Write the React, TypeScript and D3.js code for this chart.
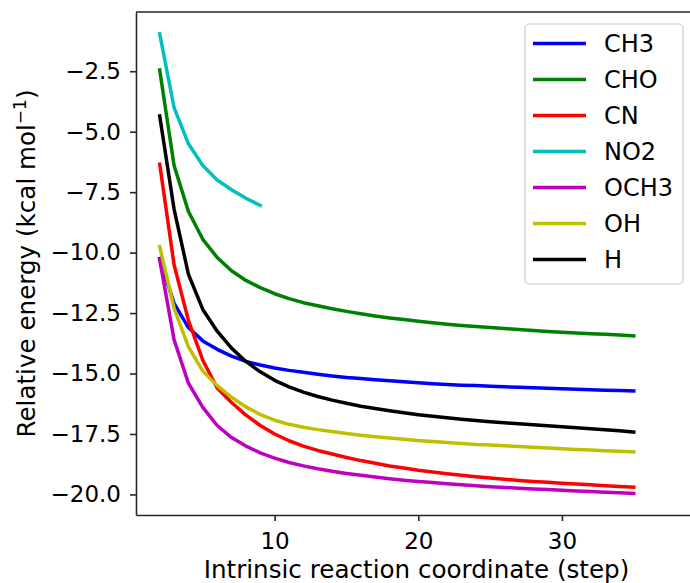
import React, { useEffect, useRef } from 'react';
import * as d3 from 'd3';

// IRC step numbers
const steps = [2, 3, 4, 5, 6, 7, 8, 9, 10, 11, 12, 13, 14, 15, 16, 17, 18, 19, 20, 21, 22, 23, 24, 25, 26, 27, 28, 29, 30, 31, 32, 33, 34, 35];

// relative energies (kcal/mol)
const ch3 = [-10.25, -12.1, -13.1, -13.65, -14.0, -14.28, -14.5, -14.65, -14.77, -14.87, -14.95, -15.03, -15.1, -15.16, -15.21, -15.26, -15.3, -15.34, -15.38, -15.42, -15.45, -15.48, -15.5, -15.53, -15.55, -15.57, -15.59, -15.61, -15.63, -15.65, -15.67, -15.69, -15.7, -15.72];
const cho = [-2.45, -6.4, -8.3, -9.45, -10.2, -10.75, -11.15, -11.45, -11.7, -11.9, -12.07, -12.2, -12.32, -12.43, -12.53, -12.62, -12.7, -12.77, -12.84, -12.9, -12.96, -13.01, -13.06, -13.1, -13.14, -13.18, -13.22, -13.26, -13.29, -13.32, -13.35, -13.38, -13.41, -13.44];
const cn = [-6.35, -10.5, -12.8, -14.45, -15.6, -16.2, -16.72, -17.15, -17.5, -17.78, -18.0, -18.18, -18.33, -18.47, -18.6, -18.71, -18.82, -18.91, -19.0, -19.07, -19.14, -19.21, -19.27, -19.32, -19.37, -19.42, -19.46, -19.5, -19.54, -19.57, -19.6, -19.64, -19.67, -19.7];
const no2 = [-0.95, -4.0, -5.5, -6.4, -7.0, -7.4, -7.75, -8.05];
const och3 = [-10.3, -13.6, -15.4, -16.4, -17.15, -17.65, -18.0, -18.28, -18.5, -18.68, -18.82, -18.94, -19.04, -19.13, -19.21, -19.28, -19.35, -19.41, -19.46, -19.51, -19.56, -19.6, -19.64, -19.68, -19.71, -19.74, -19.77, -19.8, -19.83, -19.86, -19.88, -19.91, -19.93, -19.96];
const oh = [-9.75, -12.3, -13.9, -14.9, -15.5, -15.98, -16.38, -16.7, -16.93, -17.1, -17.22, -17.32, -17.4, -17.48, -17.55, -17.61, -17.67, -17.72, -17.77, -17.81, -17.85, -17.89, -17.93, -17.96, -17.99, -18.02, -18.05, -18.08, -18.11, -18.14, -18.16, -18.19, -18.21, -18.24];
const h = [-4.35, -8.2, -10.9, -12.35, -13.25, -13.95, -14.5, -14.93, -15.28, -15.55, -15.77, -15.95, -16.1, -16.23, -16.35, -16.45, -16.54, -16.62, -16.7, -16.77, -16.83, -16.89, -16.94, -16.99, -17.04, -17.08, -17.12, -17.16, -17.2, -17.24, -17.28, -17.32, -17.37, -17.42];

const seriesNames = ['CH3', 'CHO', 'CN', 'NO2', 'OCH3', 'OH', 'H'];
const seriesValues = [ch3, cho, cn, no2, och3, oh, h];
const seriesColors = ['#0000ff', '#008000', '#ff0000', '#00bfbf', '#bf00bf', '#bfbf00', '#000000'];

const xTicks = [10, 20, 30];
const yTicks = [-2.5, -5.0, -7.5, -10.0, -12.5, -15.0, -17.5, -20.0];

const FONT = 'DejaVu Sans, sans-serif';

const App = () => {
    const ref = useRef<SVGSVGElement | null>(null);

    useEffect(() => {
        const width = 690;
        const height = 583;
        // the axes run past the right edge of the picture
        const plot = { left: 136, right: 702, top: 12, bottom: 515 };

        const svg = d3.select(ref.current);
        svg.selectAll('*').remove();

        const xScale = d3.scaleLinear()
            .domain([0.35, 39.75])
            .range([plot.left, plot.right]);
        const yScale = d3.scaleLinear()
            .domain([-20.85, -0.05])
            .range([plot.bottom, plot.top]);

        svg.append('rect')
            .attr('width', width)
            .attr('height', height)
            .attr('fill', '#ffffff');

        const lineGen = d3.line<number>()
            .x((d, i) => xScale(steps[i]))
            .y(d => yScale(d));

        svg.append('g')
            .selectAll('path')
            .data(seriesValues)
            .enter()
            .append('path')
            .attr('d', d => lineGen(d))
            .attr('fill', 'none')
            .attr('stroke', (d, i) => seriesColors[i])
            .attr('stroke-width', 3.5)
            .attr('stroke-linejoin', 'round')
            .attr('stroke-linecap', 'square');

        const xAxis = d3.axisBottom(xScale)
            .tickValues(xTicks)
            .tickFormat(d3.format('d'))
            .tickSize(6)
            .tickSizeOuter(0)
            .tickPadding(12);

        const yAxis = d3.axisLeft(yScale)
            .tickValues(yTicks)
            .tickFormat(d3.format('.1f'))
            .tickSize(6)
            .tickSizeOuter(0)
            .tickPadding(9);

        const gX = svg.append('g')
            .attr('transform', `translate(0, ${plot.bottom})`)
            .call(xAxis);
        const gY = svg.append('g')
            .attr('transform', `translate(${plot.left}, 0)`)
            .call(yAxis);

        [gX, gY].forEach(g => {
            g.select('.domain').attr('stroke', '#262626').attr('stroke-width', 1.6);
            g.selectAll('.tick line').attr('stroke', '#262626').attr('stroke-width', 1.6);
            g.selectAll('.tick text')
                .attr('fill', '#000')
                .style('font-family', FONT)
                .style('font-size', '23px');
        });

        // top spine
        svg.append('line')
            .attr('x1', plot.left)
            .attr('x2', plot.right)
            .attr('y1', plot.top)
            .attr('y2', plot.top)
            .attr('stroke', '#262626')
            .attr('stroke-width', 1.6);

        svg.append('text')
            .attr('x', 416.5)
            .attr('y', 577.5)
            .attr('text-anchor', 'middle')
            .style('font-family', FONT)
            .style('font-size', '24.6px')
            .text('Intrinsic reaction coordinate (step)');

        const yLabel = svg.append('text')
            .attr('transform', `translate(35, ${(plot.top + plot.bottom) / 2}) rotate(-90)`)
            .attr('text-anchor', 'middle')
            .style('font-family', FONT)
            .style('font-size', '24.6px');
        yLabel.append('tspan').text('Relative energy (kcal mol');
        yLabel.append('tspan').attr('dy', -9).style('font-size', '17px').text('\u22121');
        yLabel.append('tspan').attr('dy', 9).text(')');

        // legend
        const legend = svg.append('g').attr('class', 'legendGroup');
        legend.append('rect')
            .attr('x', 525)
            .attr('y', 24)
            .attr('width', 158)
            .attr('height', 260)
            .attr('rx', 4)
            .attr('fill', '#ffffff')
            .attr('fill-opacity', 0.8)
            .attr('stroke', '#cccccc')
            .attr('stroke-width', 1.2);

        legend.selectAll('line.legendLine')
            .data(seriesNames)
            .enter()
            .append('line')
            .attr('class', 'legendLine')
            .attr('x1', 533)
            .attr('x2', 586)
            .attr('y1', (d, i) => 43.5 + i * 36)
            .attr('y2', (d, i) => 43.5 + i * 36)
            .attr('stroke', (d, i) => seriesColors[i])
            .attr('stroke-width', 3.5);

        legend.selectAll('text')
            .data(seriesNames)
            .enter()
            .append('text')
            .attr('x', 604)
            .attr('y', (d, i) => 43.5 + i * 36 + 8.5)
            .style('font-family', FONT)
            .style('font-size', '24px')
            .text(d => d);
    }, []);

    return (
        <svg ref={ref} width={690} height={583}
            style={{ position: 'absolute', left: 0, top: 0, display: 'block', overflow: 'hidden' }} />
    );
};

export default App;
